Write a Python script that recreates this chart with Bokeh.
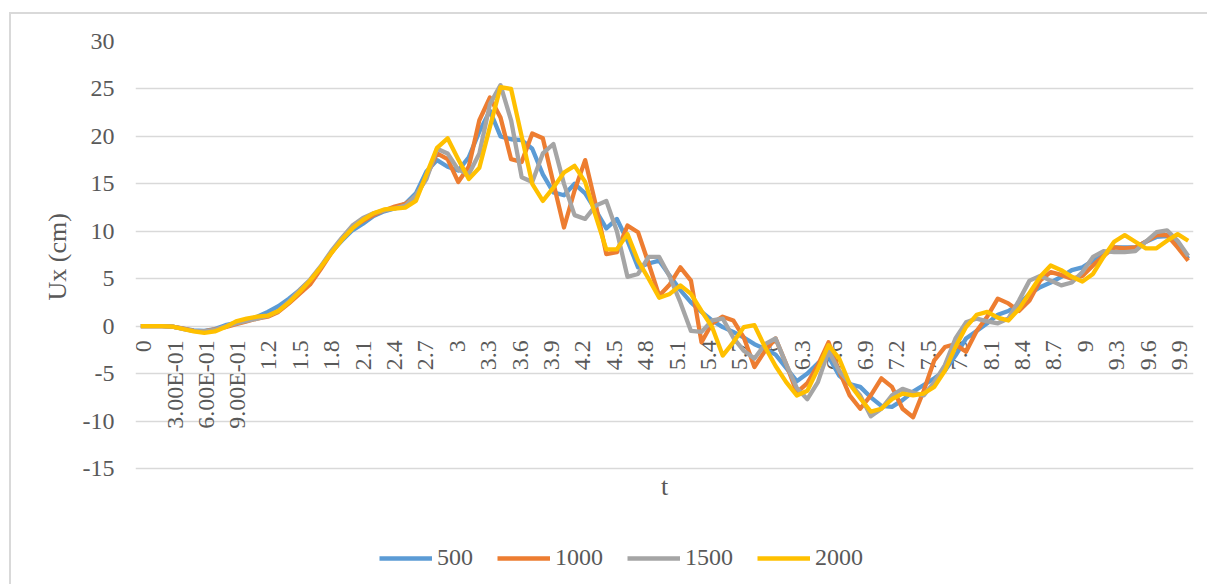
import math
from bokeh.plotting import figure
from bokeh.models import Range1d, FixedTicker, Legend, LegendItem, Title
from bokeh.core.properties import value
from bokeh.embed import file_html
from bokeh.resources import INLINE

# category tick labels (every 3rd category of t = 0, 0.1, ... 9.9)
t_labels = ["0", "3.00E-01", "6.00E-01", "9.00E-01", "1.2", "1.5", "1.8", "2.1",
            "2.4", "2.7", "3", "3.3", "3.6", "3.9", "4.2", "4.5", "4.8", "5.1",
            "5.4", "5.7", "6", "6.3", "6.6", "6.9", "7.2", "7.5", "7.8", "8.1",
            "8.4", "8.7", "9", "9.3", "9.6", "9.9"]
label_step = 3

y_ticks = [-15, -10, -5, 0, 5, 10, 15, 20, 25, 30]

series_names = ["500", "1000", "1500", "2000"]
series_colors = ["#5B9BD5", "#ED7D31", "#A5A5A5", "#FFC000"]

u500 = [0, 0, 0, -0.05, -0.25, -0.45, -0.5, -0.3, 0.1, 0.35,
        0.6, 1.0, 1.5, 2.1, 2.9, 3.8, 4.8, 6.2, 7.8, 9.0,
        10.1, 10.8, 11.6, 12.1, 12.4, 12.9, 14.0, 16.3, 17.5, 16.8,
        16.4, 17.8, 20.5, 22.7, 20.0, 19.7, 19.6, 18.7, 16.0, 14.1,
        13.8, 15.0, 14.0, 12.2, 10.3, 11.3, 9.0, 6.2, 6.6, 6.9,
        5.3, 3.8, 2.5, 1.5, 0.6, -0.1, -0.6, -1.2, -1.9, -2.4,
        -3.0, -4.4, -5.8, -5.0, -3.9, -3.2, -5.2, -6.1, -6.4, -7.5,
        -8.4, -8.5, -7.8, -6.9, -6.2, -5.5, -4.7, -3.1, -1.3, -0.5,
        0.3, 1.2, 1.6, 2.3, 3.4, 4.1, 4.6, 5.2, 5.9, 6.2,
        6.9, 7.6, 8.3, 8.3, 8.3, 8.9, 9.4, 9.5, 8.7, 7.1]

u1000 = [0, 0, 0, -0.05, -0.25, -0.5, -0.55, -0.35, -0.1, 0.2,
         0.5, 0.8, 1.0, 1.5, 2.4, 3.4, 4.4, 6.0, 7.7, 9.2,
         10.4, 11.1, 11.7, 12.2, 12.6, 12.9, 13.6, 15.8, 18.2, 17.6,
         15.2, 16.8, 21.7, 24.1, 22.0, 17.6, 17.3, 20.3, 19.8, 15.1,
         10.4, 14.3, 17.5, 12.8, 7.6, 7.8, 10.6, 9.9, 6.6, 3.2,
         4.4, 6.2, 4.8, -1.7, 0.3, 1.0, 0.6, -1.2, -4.3, -2.6,
         -1.3, -4.0, -7.0, -6.0, -4.1, -1.7, -4.7, -7.3, -8.7, -7.3,
         -5.5, -6.4, -8.7, -9.6, -6.8, -3.6, -2.2, -1.9, -2.7, -0.5,
         1.0, 2.9, 2.4, 1.6, 2.7, 4.8, 5.7, 5.4, 5.0, 5.3,
         6.4, 7.4, 8.3, 8.2, 8.3, 8.9, 9.6, 9.6, 8.3, 6.9]

u1500 = [0, 0, 0, -0.05, -0.3, -0.5, -0.55, -0.4, 0.0, 0.3,
         0.55, 0.8, 1.1, 1.6, 2.6, 3.8, 4.9, 6.3, 7.9, 9.3,
         10.6, 11.4, 11.9, 12.2, 12.4, 12.7, 13.8, 15.5, 18.7, 18.2,
         16.5, 16.0, 18.2, 23.4, 25.4, 21.7, 15.7, 15.2, 18.2, 19.2,
         15.0, 11.7, 11.3, 12.7, 13.2, 10.0, 5.2, 5.5, 7.3, 7.3,
         5.2, 2.5, -0.5, -0.6, 0.6, 0.8, -1.2, -2.6, -3.4, -1.9,
         -1.3, -4.0, -6.5, -7.7, -5.9, -2.6, -4.7, -6.0, -7.3, -9.5,
         -8.7, -7.3, -6.6, -7.0, -7.3, -5.9, -4.1, -1.3, 0.4, 0.8,
         0.5, 0.3, 0.8, 2.7, 4.8, 5.3, 4.8, 4.3, 4.6, 5.7,
         7.3, 7.9, 7.8, 7.8, 7.9, 8.9, 9.9, 10.1, 9.0, 7.4]

u2000 = [0, 0, 0, -0.05, -0.3, -0.55, -0.7, -0.55, -0.1, 0.5,
         0.8, 1.0, 1.1, 1.6, 2.5, 3.6, 4.8, 6.2, 7.7, 9.1,
         10.3, 11.2, 11.9, 12.3, 12.4, 12.5, 13.2, 16.0, 18.8, 19.8,
         17.6, 15.5, 16.7, 21.0, 25.2, 25.0, 20.0, 15.0, 13.2, 14.6,
         16.2, 16.9, 15.2, 11.6, 8.1, 8.1, 9.7, 6.9, 5.0, 3.0,
         3.4, 4.3, 3.4, 1.6, -0.1, -3.1, -1.7, -0.1, 0.1, -2.2,
         -4.2, -5.9, -7.3, -6.8, -4.5, -2.0, -3.4, -6.1, -7.6, -9.0,
         -8.7, -7.7, -7.1, -7.3, -7.1, -6.4, -4.7, -2.2, -0.1, 1.2,
         1.5, 0.9, 0.6, 1.8, 3.5, 5.2, 6.4, 5.9, 5.2, 4.7,
         5.5, 7.3, 8.9, 9.6, 8.9, 8.2, 8.2, 9.0, 9.7, 9.0]

series_values = [u500, u1000, u1500, u2000]

FONT = "Liberation Serif"
TXT = "#595959"
n_cat = len(u500)
cat_idx = list(range(n_cat))

# layout (pixels)
W, H = 1198, 572
B_LEFT, B_RIGHT, B_TOP, B_BOTTOM = 124, 16, 27, 0
GRID_PX = 427            # height between the -15 and 30 gridlines
frame_h = H - B_TOP - B_BOTTOM
px_per_unit = GRID_PX / (y_ticks[-1] - y_ticks[0])
y_lo = y_ticks[-1] - frame_h / px_per_unit   # extra room below -15 for title and legend

p = figure(width=W, height=H, output_backend="svg", toolbar_location=None,
           x_range=Range1d(-0.5, n_cat - 0.5), y_range=Range1d(y_lo, y_ticks[-1]),
           min_border_left=B_LEFT, min_border_right=B_RIGHT, min_border_top=B_TOP,
           min_border_bottom=B_BOTTOM)
p.margin = (12, 0, 0, 9)
p.styles = {"border-left": "2px solid #d9d9d9", "border-top": "2px solid #d9d9d9"}
p.outline_line_color = None
p.background_fill_color = "white"
p.border_fill_color = "white"

p.xgrid.visible = False
p.ygrid.grid_line_color = "#d9d9d9"
p.ygrid.grid_line_width = 1.3
p.xaxis.visible = False

# y axis
p.yaxis.ticker = FixedTicker(ticks=y_ticks)
p.yaxis.major_label_overrides = {v: str(v) for v in y_ticks}
p.yaxis.axis_line_color = None
p.yaxis.major_tick_line_color = None
p.yaxis.major_tick_out = 0
p.yaxis.major_tick_in = 0
p.yaxis.minor_tick_line_color = None
p.yaxis.major_label_standoff = 21
p.yaxis.major_label_text_font = FONT
p.yaxis.major_label_text_font_size = "24px"
p.yaxis.major_label_text_color = TXT

ytitle = Title(text="Ux (cm)", align="left", offset=286, standoff=16,
               text_font=FONT, text_font_size="26px", text_font_style="normal",
               text_color=TXT)
p.add_layout(ytitle, "left")

# category labels at the y=0 crossing (slightly tighter spacing, as in the source chart)
lab_x = cat_idx[::label_step]
lab_dx = [2.5 - 0.113 * i for i in lab_x]
p.text(x=lab_x, y=[0] * len(lab_x), text=t_labels, angle=math.pi / 2,
       text_align="right", text_baseline="middle", x_offset=lab_dx, y_offset=14,
       text_font=value(FONT), text_font_size="24px", text_color=TXT)

# x axis title
p.text(x=[(n_cat - 1) / 2], y=[y_ticks[0]], text=["t"], y_offset=18,
       text_align="center", text_baseline="middle",
       text_font=value(FONT), text_font_size="26px", text_color=TXT)

renderers = []
for name, vals, col in zip(series_names, series_values, series_colors):
    r = p.line(cat_idx, vals, line_color=col, line_width=4.3, line_join="round")
    renderers.append(r)

legend = Legend(items=[LegendItem(label=nm, renderers=[r]) for nm, r in zip(series_names, renderers)],
                orientation="horizontal", location=(244, 15),
                glyph_width=53, glyph_height=20, label_standoff=5, spacing=24,
                padding=0, margin=0, border_line_color=None, background_fill_alpha=0,
                label_text_font=FONT, label_text_font_size="24px", label_text_color=TXT)
p.add_layout(legend)

open("out.html", "w").write(file_html(p, INLINE))
